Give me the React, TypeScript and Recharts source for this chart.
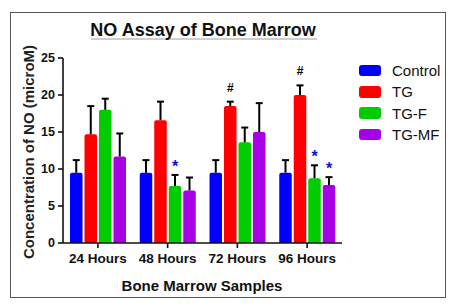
import React from 'react';
import { BarChart, Bar, XAxis, YAxis, Legend } from 'recharts';

const categories = ['24 Hours', '48 Hours', '72 Hours', '96 Hours'];
const seriesNames = ['Control', 'TG', 'TG-F', 'TG-MF'];
const seriesColors = ['#0000ff', '#ff0000', '#00cc00', '#a800e6'];
const controlValues = [9.5, 9.5, 9.5, 9.5];
const controlErrors = [1.7, 1.7, 1.7, 1.7];
const tgValues = [14.7, 16.6, 18.5, 20.0];
const tgErrors = [3.8, 2.5, 0.6, 1.3];
const tgfValues = [18.0, 7.7, 13.6, 8.75];
const tgfErrors = [1.5, 1.5, 2.0, 1.75];
const tgmfValues = [11.7, 7.1, 15.0, 7.85];
const tgmfErrors = [3.1, 1.75, 3.9, 1.05];
const controlMarks = ['', '', '', ''];
const tgMarks = ['', '', '#', '#'];
const tgfMarks = ['', '*', '', '*'];
const tgmfMarks = ['', '', '', '*'];
const yTicks = [0, 5, 10, 15, 20, 25];

const data = categories.map((c, i) => ({
  category: c,
  control: controlValues[i], controlErr: controlErrors[i], controlMark: controlMarks[i],
  tg: tgValues[i], tgErr: tgErrors[i], tgMark: tgMarks[i],
  tgf: tgfValues[i], tgfErr: tgfErrors[i], tgfMark: tgfMarks[i],
  tgmf: tgmfValues[i], tgmfErr: tgmfErrors[i], tgmfMark: tgmfMarks[i],
}));

const FONT = '"Liberation Sans", Arial, sans-serif';

const makeShape = (valKey: string, errKey: string, markKey: string) => (props: any) => {
  const { x, y, width, height, fill, payload } = props;
  const v = payload[valKey];
  const ppu = height / v;
  const err = payload[errKey];
  const cx = x + width / 2;
  const top = y - err * ppu;
  const r = 2;
  const d = `M${x},${y + height} L${x},${y + r} Q${x},${y} ${x + r},${y} L${x + width - r},${y} Q${x + width},${y} ${x + width},${y + r} L${x + width},${y + height} Z`;
  const mark = payload[markKey];
  return (
    <g>
      <path d={d} fill={fill} />
      <line x1={cx} y1={y} x2={cx} y2={top} stroke="#000" strokeWidth={2} />
      <line x1={cx - 3.5} y1={top} x2={cx + 3.5} y2={top} stroke="#000" strokeWidth={2} />
      {mark === '#' && (
        <text x={cx} y={top - 14.3 + 4.3} textAnchor="middle" fontFamily={FONT} fontWeight="bold" fontSize={12} fill="#000">#</text>
      )}
      {mark === '*' && (
        <text x={cx} y={top - 12 + 9} textAnchor="middle" fontFamily={FONT} fontWeight="bold" fontSize={16} fill="#1010dd">*</text>
      )}
    </g>
  );
};

const LegendContent = () => (
  <div style={{ fontFamily: FONT }}>
    {seriesNames.map((n, i) => (
      <div key={n} style={{ display: 'flex', alignItems: 'center', height: 21.3 }}>
        <div style={{ width: 22, height: 11.5, borderRadius: 3, background: seriesColors[i] }} />
        <span style={{ marginLeft: 11, fontSize: 15, color: '#111' }}>{n}</span>
      </div>
    ))}
  </div>
);

const keys = ['control', 'tg', 'tgf', 'tgmf'];

export default function App() {
  return (
    <div style={{ position: 'absolute', left: 0, top: 0, width: 460, height: 307, background: '#fff' }}>
      <div style={{ position: 'absolute', left: 10, top: 12, width: 434, height: 284, border: '1px solid #555' }} />
      <div style={{ position: 'absolute', left: 91, top: 38, width: 226, height: 1.5, background: '#cfcfcf' }} />
      <div style={{ position: 'absolute', left: 203, top: 30, transform: 'translate(-50%,-50%)', fontFamily: FONT, fontWeight: 'bold', fontSize: 18, whiteSpace: 'nowrap', color: '#111' }}>
        NO Assay of Bone Marrow
      </div>
      <div style={{ position: 'absolute', left: 28, top: 152, transform: 'translate(-50%,-50%) rotate(-90deg)', fontFamily: FONT, fontWeight: 'bold', fontSize: 15, whiteSpace: 'nowrap', color: '#222' }}>
        Concentration of NO (microM)
      </div>
      <div style={{ position: 'absolute', left: 202, top: 285, transform: 'translate(-50%,-50%)', fontFamily: FONT, fontWeight: 'bold', fontSize: 15, whiteSpace: 'nowrap', color: '#111' }}>
        Bone Marrow Samples
      </div>
      <div style={{ position: 'absolute', left: 0, top: 0 }}>
        <BarChart width={460} height={307} data={data} margin={{ top: 58, right: 118, bottom: 34, left: 0 }} barSize={12.5} barGap={2}>
          <XAxis
            dataKey="category"
            height={30}
            axisLine={{ stroke: '#111', strokeWidth: 1.6 }}
            tickLine={{ stroke: '#111', strokeWidth: 1.6 }}
            tickSize={5}
            tickMargin={5}
            tick={{ fontFamily: FONT, fontWeight: 'bold', fontSize: 13.5, fill: '#111' }}
            interval={0}
          />
          <YAxis
            width={63}
            domain={[0, 25]}
            ticks={yTicks}
            axisLine={{ stroke: '#111', strokeWidth: 1.6 }}
            tickLine={{ stroke: '#111', strokeWidth: 1.6 }}
            tickSize={5}
            tickMargin={3}
            tick={{ fontFamily: FONT, fontWeight: 'bold', fontSize: 12.5, fill: '#111' }}
          />
          <Legend layout="vertical" verticalAlign="middle" align="center" content={<LegendContent />} wrapperStyle={{ left: 359, top: 60, width: 90 }} />
          {keys.map((k, i) => (
            <Bar key={k} dataKey={k} name={seriesNames[i]} fill={seriesColors[i]} isAnimationActive={false}
              shape={makeShape(k, k + 'Err', k + 'Mark')} />
          ))}
        </BarChart>
      </div>
    </div>
  );
}
